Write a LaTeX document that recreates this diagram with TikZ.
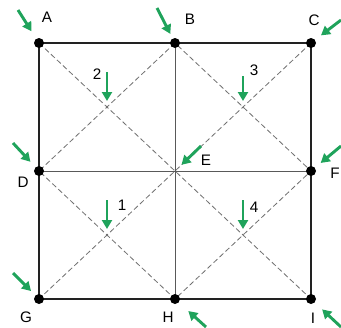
\documentclass[tikz,border=0pt]{standalone}
\usepackage{fontspec}
\setmainfont{Liberation Sans}
\usetikzlibrary{arrows.meta, positioning}
\definecolor{mygreen}{HTML}{1FA35B}
\definecolor{mygray}{HTML}{707070}
\definecolor{mydark}{HTML}{222222}

\begin{document}
\begin{tikzpicture}[x=0.03cm, y=-0.03cm,
  dot/.style={circle, fill=black, inner sep=0pt, minimum size=0.3cm},
  lbl/.style={font=\fontsize{13}{15}\selectfont, inner sep=0pt},
  frame/.style={line width=1.4pt, mydark},
  inner/.style={line width=0.6pt, black!65},
  diag/.style={mygray, line width=0.7pt, dash pattern=on 4.5pt off 2.5pt},
  arr/.style={-{Triangle[length=0.27cm, width=0.3cm]}, line width=2.5pt, mygreen}
]
\useasboundingbox (0,0) rectangle (341,327);
% grid points
\coordinate (A) at (39,43);
\coordinate (B) at (175,43);
\coordinate (C) at (311,43);
\coordinate (D) at (39,171);
\coordinate (E) at (175,171);
\coordinate (F) at (311,171);
\coordinate (G) at (39,299);
\coordinate (H) at (175,299);
\coordinate (I) at (311,299);
% quadrant centres
\coordinate (q1) at (107,235);
\coordinate (q2) at (107,107);
\coordinate (q3) at (243,107);
\coordinate (q4) at (243,235);

% lines
\draw[diag] (A) -- (I);
\draw[diag] (C) -- (G);
\draw[diag] (B) -- (D) -- (H) -- (F) -- cycle;
\draw[inner] (B) -- (H);
\draw[inner] (D) -- (F);
\draw[frame] (A) -- (C) -- (I) -- (G) -- cycle;

% dots
\foreach \p in {A,B,C,D,F,G,H,I}
  \node[dot] (d\p) at (\p) {};

% labels
\node[lbl] (lA) at (47,17) {A};
\node[lbl] (lB) at (190,19) {B};
\node[lbl] (lC) at (314,20) {C};
\node[lbl] (lD) at (23,182) {D};
\node[lbl] (lE) at (206,160) {E};
\node[lbl] (lF) at (335,173) {F};
\node[lbl] (lG) at (26,317) {G};
\node[lbl] (lH) at (168,317) {H};
\node[lbl] (lI) at (313,318) {I};
\node[lbl] (n1) at (122,205) {1};
\node[lbl] (n2) at (97,74) {2};
\node[lbl] (n3) at (254,70) {3};
\node[lbl] (n4) at (254,207) {4};

% arrow tails
\coordinate (tA) at (18,10);
\coordinate (tB) at (157,8);
\coordinate (tC) at (341,20);
\coordinate (tD) at (13,143);
\coordinate (tE) at (201,146);
\coordinate (tF) at (341,146);
\coordinate (tG) at (13,273);
\coordinate (tH) at (206,327);
\coordinate (tI) at (341,327);
\coordinate (t1) at (107,200);
\coordinate (t2) at (107,72);
\coordinate (t3) at (243,76);
\coordinate (t4) at (243,200);

% green arrows
\draw[arr, shorten >=0.26cm] (tA) -- (dA);
\draw[arr, shorten >=0.15cm] (tB) -- (dB);
\draw[arr, shorten >=0.22cm] (tC) -- (dC);
\draw[arr, shorten >=0.22cm] (tD) -- (dD);
\draw[arr, shorten >=0.27cm] (tE) -- (E);
\draw[arr, shorten >=0.22cm] (tF) -- (dF);
\draw[arr, shorten >=0.18cm] (tG) -- (dG);
\draw[arr, shorten >=0.38cm] (tH) -- (dH);
\draw[arr, shorten >=0.3cm] (tI) -- (dI);
\foreach \k in {1,2,3,4}
  \draw[arr, shorten >=0.18cm] (t\k) -- (q\k);
\end{tikzpicture}
\end{document}
